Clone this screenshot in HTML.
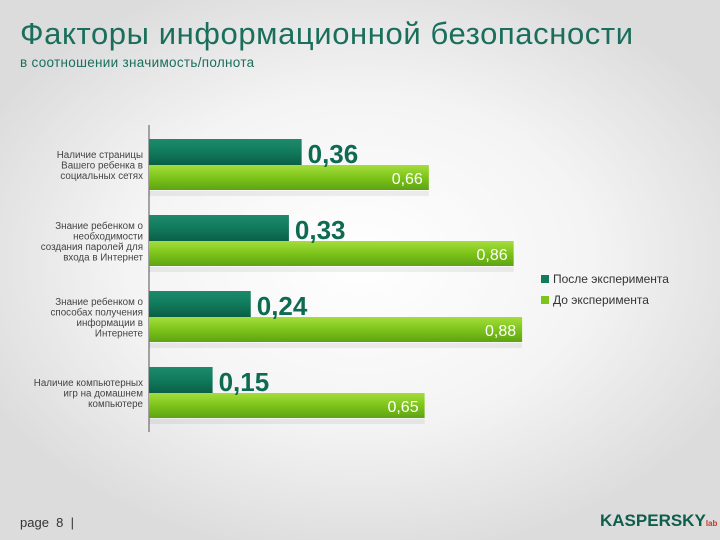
<!DOCTYPE html>
<html><head><meta charset="utf-8"><style>
body{margin:0;width:720px;height:540px;overflow:hidden;font-family:"Liberation Sans","DejaVu Sans",sans-serif;}
#bg{position:absolute;left:0;top:0;width:720px;height:540px;background:radial-gradient(ellipse 420px 300px at 360px 260px,#ffffff 0%,#f4f4f4 55%,#dcdcdc 100%);}
.t{position:absolute;white-space:nowrap;}
</style></head><body>
<div id="bg"></div>
<div class="t" style="left:20px;top:16px;font-size:31px;letter-spacing:0.6px;color:#1a6e5c;">Факторы информационной безопасности</div>
<div class="t" style="left:20px;top:55px;font-size:13.5px;letter-spacing:0.3px;color:#1a6e5c;">в соотношении значимость/полнота</div>
<svg id="chart" width="720" height="540" style="position:absolute;left:0;top:0">
<defs>
<linearGradient id="gd" x1="0" y1="0" x2="0" y2="1"><stop offset="0" stop-color="#1e8a6c"/><stop offset="0.5" stop-color="#117a5c"/><stop offset="1" stop-color="#0a5f46"/></linearGradient>
<linearGradient id="gl" x1="0" y1="0" x2="0" y2="1"><stop offset="0" stop-color="#a6dd3c"/><stop offset="0.5" stop-color="#7cc41a"/><stop offset="1" stop-color="#5ea312"/></linearGradient>
</defs>
</svg>
<div class="t" style="left:541px;top:272px;font-size:12px;color:#333;"><span style="display:inline-block;width:8px;height:8px;background:#137a5c;margin-right:4px"></span>После эксперимента</div>
<div class="t" style="left:541px;top:293px;font-size:12px;color:#333;"><span style="display:inline-block;width:8px;height:8px;background:#7cc41a;margin-right:4px"></span>До эксперимента</div>
<div class="t" style="left:20px;top:515px;font-size:13px;color:#333;">page&nbsp; 8&nbsp; |</div>
<div class="t" style="left:600px;top:511px;font-size:17px;font-weight:bold;color:#0f5e4c;letter-spacing:0px;">KASPERSKY<span style="font-size:8px;color:#c0392b">lab</span></div>
<script>
const categories=[["Наличие страницы","Вашего ребенка в","социальных сетях"],["Знание ребенком о","необходимости","создания паролей для","входа в Интернет"],["Знание ребенком о","способах получения","информации в","Интернете"],["Наличие компьютерных","игр на домашнем","компьютере"]];
const afterValues=[0.36,0.33,0.24,0.15];
const beforeValues=[0.66,0.86,0.88,0.65];
const afterLabels=["0,36","0,33","0,24","0,15"];
const beforeLabels=["0,66","0,86","0,88","0,65"];
const svg=document.getElementById('chart');const NS="http://www.w3.org/2000/svg";
const x0=149,scale=424,groupTop=139,groupStep=76,barH=26;
const xs=v=>x0+v*scale;
function mk(t,a){const e=document.createElementNS(NS,t);for(const k in a)e.setAttribute(k,a[k]);svg.appendChild(e);return e;}
const axis=mk('line',{x1:x0,y1:125,x2:x0,y2:432,stroke:'#888','stroke-width':1.5});


categories.forEach((c,i)=>{
 const y=groupTop+i*groupStep;
 const sh=mk('rect',{x:x0,y:y+barH+barH,width:xs(beforeValues[i])-x0,height:5,fill:'#000',opacity:0.06});
 
 
 const b=mk('rect',{x:x0,y:y+barH,width:xs(beforeValues[i])-x0,height:barH-1,fill:'url(#gl)'});
 
 
 const a=mk('rect',{x:x0,y:y,width:xs(afterValues[i])-x0,height:barH,fill:'url(#gd)'});
 
 
 const ta=mk('text',{x:xs(afterValues[i])+6,y:y+24,'font-size':26,'font-weight':'bold',fill:'#0f6a52','font-family':'Liberation Sans, sans-serif'});
 ta.textContent=afterLabels[i];
 
 
 const tb=mk('text',{x:xs(beforeValues[i])-6,y:y+barH+19,'font-size':16,fill:'#fff','text-anchor':'end','font-family':'Liberation Sans, sans-serif'});
 tb.textContent=beforeLabels[i];
 
 
 const n=c.length,cy=y+barH;
 c.forEach((line,j)=>{
  const tl=mk('text',{x:143,y:cy+(j-(n-1)/2)*10.5+3.5,'font-size':9.8,fill:'#444','text-anchor':'end','font-family':'Liberation Sans, sans-serif'});
  tl.textContent=line;
  
  
 });
});
</script>
</body></html>
